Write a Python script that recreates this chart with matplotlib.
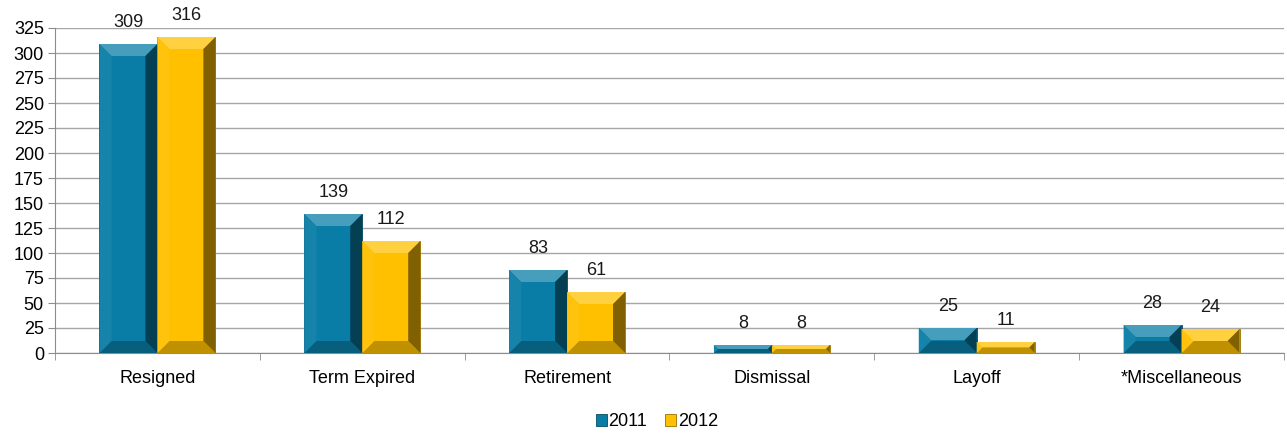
import numpy as np
import matplotlib
matplotlib.use("Agg")
import matplotlib.pyplot as plt
from matplotlib.patches import Polygon
from matplotlib.colors import to_rgb

categories = ['Resigned', 'Term Expired', 'Retirement', 'Dismissal', 'Layoff', '*Miscellaneous']
vals_2011 = [309, 139, 83, 8, 25, 28]
vals_2012 = [316, 112, 61, 8, 11, 24]
series = ['2011', '2012']
colors = ['#0A7DA6', '#FFC000']

plt.rcParams['font.family'] = ['Liberation Sans', 'DejaVu Sans']
fs = 13

fig = plt.figure(figsize=(12.87, 4.33), dpi=100)
ax = fig.add_axes([55 / 1287, 1 - 353 / 433, 1229 / 1287, 325 / 433])

x = np.arange(len(categories))
w = 0.283
ax.set_xlim(-0.5, len(categories) - 0.5)
ax.set_ylim(0, 325)


def shade(c, f):
    r = np.array(to_rgb(c))
    if f < 1:
        return tuple(r * f)
    return tuple(r + (1 - r) * (f - 1))


def bevel(bar, color, b=12):
    # bevel facets drawn in pixel units from the bar's own geometry
    x0, y0 = ax.transData.transform((bar.get_x(), 0))
    x1, y1 = ax.transData.transform((bar.get_x() + bar.get_width(), bar.get_height()))
    bb = min(b, (y1 - y0) / 2, (x1 - x0) / 2)
    inv = ax.transData.inverted()
    faces = [
        ([(x0, y1), (x1, y1), (x1 - bb, y1 - bb), (x0 + bb, y1 - bb)], shade(color, 1.25)),
        ([(x0, y0), (x1, y0), (x1 - bb, y0 + bb), (x0 + bb, y0 + bb)], shade(color, 0.75)),
        ([(x0, y0), (x0, y1), (x0 + bb, y1 - bb), (x0 + bb, y0 + bb)], shade(color, 1.05)),
        ([(x1, y0), (x1, y1), (x1 - bb, y1 - bb), (x1 - bb, y0 + bb)], shade(color, 0.5)),
    ]
    for pts, fc in faces:
        ax.add_patch(Polygon(inv.transform(pts), closed=True, facecolor=fc,
                             edgecolor='none', zorder=3))


handles = []
for i, (vals, col, name) in enumerate(zip([vals_2011, vals_2012], colors, series)):
    bars = ax.bar(x + (i - 0.5) * w, vals, w, color=col, label=name, zorder=2,
                  edgecolor=shade(col, 0.6), linewidth=0.6)
    handles.append(bars)
    for bar, v in zip(bars, vals):
        bevel(bar, col)
        ax.annotate(str(v), (bar.get_x() + bar.get_width() / 2, v), xytext=(0, 12),
                    textcoords='offset points', ha='center', va='baseline',
                    fontsize=fs, color='#1a1a1a', annotation_clip=False)

ax.set_yticks(np.arange(0, 326, 25))
ax.yaxis.grid(True, color='#a6a6a6', linewidth=1.0, zorder=0)
ax.set_axisbelow(True)
ax.set_xticks(x)
ax.set_xticklabels(categories, fontsize=fs)
ax.set_xticks(np.arange(-0.5, len(categories)), minor=True)
ax.tick_params(axis='x', which='major', length=0, pad=12)
ax.tick_params(axis='x', which='minor', length=5, color='#8c8c8c')
ax.tick_params(axis='y', length=5, color='#8c8c8c', labelsize=fs, pad=3)
for s in ['top', 'right']:
    ax.spines[s].set_visible(False)
for s in ['left', 'bottom']:
    ax.spines[s].set_color('#8c8c8c')

fig.legend(handles=handles, labels=series, loc='center', bbox_to_anchor=(657 / 1287, 1 - 422 / 433),
           ncol=2, frameon=False, fontsize=fs, handlelength=0.6, handleheight=0.6,
           handletextpad=0.1, columnspacing=1.0)

fig.savefig('out.png', dpi=100)
